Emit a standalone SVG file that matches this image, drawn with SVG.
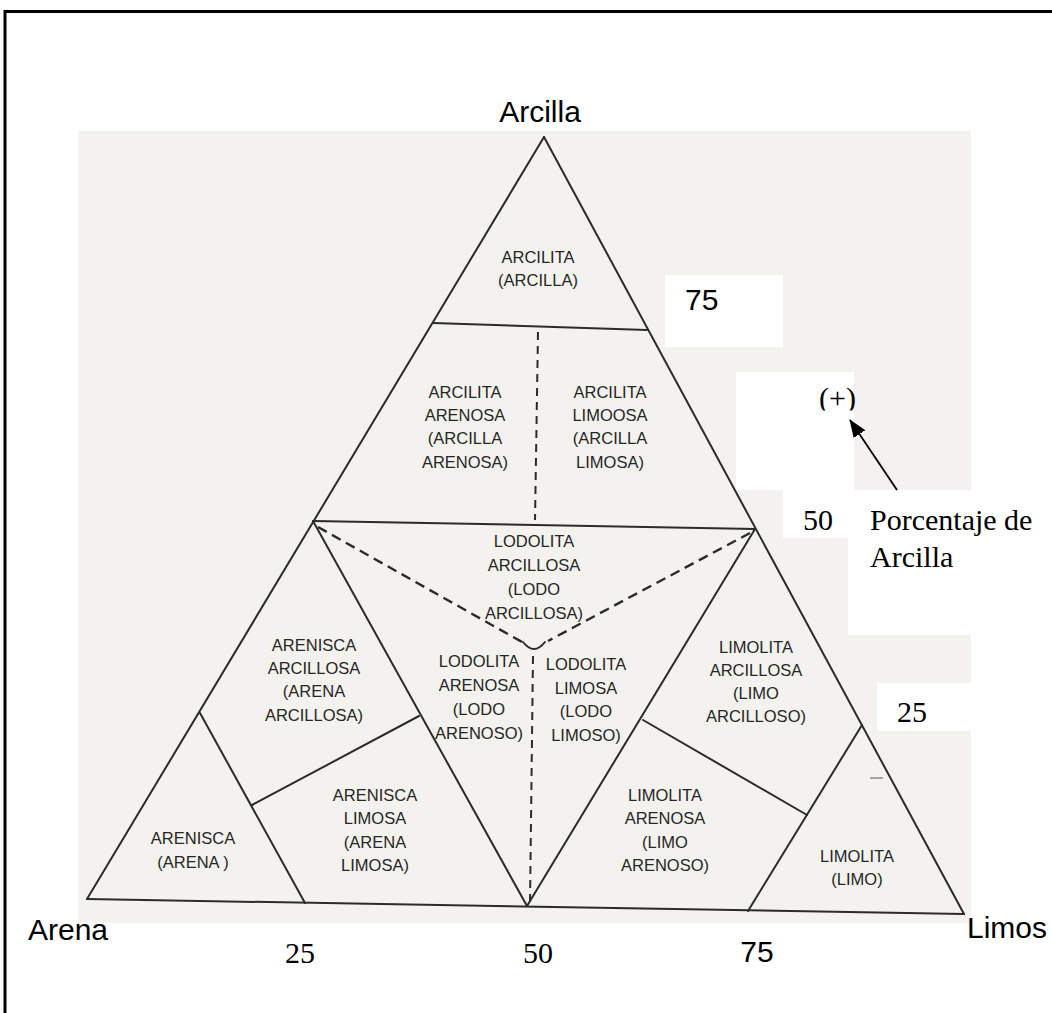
<svg xmlns="http://www.w3.org/2000/svg" width="1052" height="1013" viewBox="0 0 1052 1013">
<style>
.lbl{font-family:"Liberation Sans",Arial,sans-serif;font-size:16.5px;fill:#262626;text-anchor:middle}
.big{font-family:"Liberation Sans",Arial,sans-serif;font-size:30px;fill:#000}
.tim{font-family:"Liberation Serif","Times New Roman",serif;font-size:30px;fill:#000}
.ln{stroke:#2b2b2b;stroke-width:2;fill:none;stroke-linecap:round}
.ds{stroke:#2b2b2b;stroke-width:2.4;fill:none;stroke-dasharray:10 6}
.dv{stroke:#2b2b2b;stroke-width:2;fill:none;stroke-dasharray:8 6}
.wb{fill:#ffffff}
</style>
<defs>
<marker id="ah" viewBox="0 0 18 14" refX="17" refY="7" markerWidth="18" markerHeight="14" orient="auto" markerUnits="userSpaceOnUse">
<path d="M0,0 L18,7 L0,14 z" fill="#000"/>
</marker>
<clipPath id="plusclip"><rect x="800" y="370" width="80" height="40.5"/></clipPath>
</defs>
<rect x="0" y="0" width="1052" height="1013" fill="#ffffff"/>
<rect x="5" y="11.5" width="1060" height="1020" fill="none" stroke="#000" stroke-width="3"/>
<rect id="scan" x="78" y="131" width="893" height="792" fill="#f4f2ee"/>

<g id="boxes">
<rect class="wb" x="665" y="275" width="118" height="72"/>
<rect class="wb" x="736" y="372" width="118" height="118"/>
<rect class="wb" x="783" y="490" width="66" height="48"/>
<rect class="wb" x="848" y="490" width="204" height="145"/>
<rect class="wb" x="877" y="683" width="95" height="48"/>
</g>

<g id="connectors">
<line class="ln" x1="544" y1="137" x2="87" y2="899"/>
<line class="ln" x1="544" y1="137" x2="964" y2="914"/>
<line class="ln" x1="87" y1="899" x2="964" y2="914" stroke-width="3"/>
<line class="ln" x1="433" y1="323" x2="647" y2="330"/>
<line class="ln" x1="313" y1="521" x2="755" y2="529"/>
<line class="dv" x1="538" y1="332" x2="535" y2="520"/>
<line class="ln" x1="313" y1="521" x2="527" y2="906"/>
<line class="ln" x1="755" y1="529" x2="527" y2="906"/>
<line class="ds" x1="318" y1="527" x2="522" y2="642"/>
<line class="ds" x1="750" y1="533" x2="548" y2="641"/>
<path class="ln" d="M523,642 Q534,656 545,642"/>
<line class="dv" x1="533" y1="656" x2="530" y2="904"/>
<line class="ln" x1="200" y1="713" x2="305" y2="903"/>
<line class="ln" x1="419" y1="716" x2="252" y2="805"/>
<line class="ln" x1="862" y1="725" x2="748" y2="911"/>
<line class="ln" x1="643" y1="720" x2="807" y2="815"/>
<line x1="870" y1="778" x2="883" y2="778" stroke="#888" stroke-width="1.5"/>
<line x1="897" y1="490" x2="850" y2="420" stroke="#000" stroke-width="1.8" marker-end="url(#ah)"/>
</g>

<g id="n-arcilita">
<text class="lbl" x="538" y="263">ARCILITA</text>
<text class="lbl" x="538" y="286">(ARCILLA)</text>
</g>
<g id="n-arcilita-arenosa">
<text class="lbl" x="465" y="398">ARCILITA</text>
<text class="lbl" x="465" y="421">ARENOSA</text>
<text class="lbl" x="465" y="444">(ARCILLA</text>
<text class="lbl" x="465" y="468">ARENOSA)</text>
</g>
<g id="n-arcilita-limosa">
<text class="lbl" x="610" y="398">ARCILITA</text>
<text class="lbl" x="610" y="421">LIMOOSA</text>
<text class="lbl" x="610" y="444">(ARCILLA</text>
<text class="lbl" x="610" y="468">LIMOSA)</text>
</g>
<g id="n-lodolita-arcillosa">
<text class="lbl" x="534" y="547">LODOLITA</text>
<text class="lbl" x="534" y="571">ARCILLOSA</text>
<text class="lbl" x="534" y="595">(LODO</text>
<text class="lbl" x="534" y="619">ARCILLOSA)</text>
</g>
<g id="n-arenisca-arcillosa">
<text class="lbl" x="314" y="651">ARENISCA</text>
<text class="lbl" x="314" y="674">ARCILLOSA</text>
<text class="lbl" x="314" y="697">(ARENA</text>
<text class="lbl" x="314" y="721">ARCILLOSA)</text>
</g>
<g id="n-lodolita-arenosa">
<text class="lbl" x="479" y="667">LODOLITA</text>
<text class="lbl" x="479" y="691">ARENOSA</text>
<text class="lbl" x="479" y="715">(LODO</text>
<text class="lbl" x="479" y="739">ARENOSO)</text>
</g>
<g id="n-lodolita-limosa">
<text class="lbl" x="586" y="670">LODOLITA</text>
<text class="lbl" x="586" y="694">LIMOSA</text>
<text class="lbl" x="586" y="717">(LODO</text>
<text class="lbl" x="586" y="741">LIMOSO)</text>
</g>
<g id="n-limolita-arcillosa">
<text class="lbl" x="756" y="653">LIMOLITA</text>
<text class="lbl" x="756" y="676">ARCILLOSA</text>
<text class="lbl" x="756" y="699">(LIMO</text>
<text class="lbl" x="756" y="722">ARCILLOSO)</text>
</g>
<g id="n-arenisca-limosa">
<text class="lbl" x="375" y="801">ARENISCA</text>
<text class="lbl" x="375" y="824">LIMOSA</text>
<text class="lbl" x="375" y="848">(ARENA</text>
<text class="lbl" x="375" y="871">LIMOSA)</text>
</g>
<g id="n-arenisca">
<text class="lbl" x="193" y="844">ARENISCA</text>
<text class="lbl" x="193" y="868">(ARENA )</text>
</g>
<g id="n-limolita-arenosa">
<text class="lbl" x="665" y="801">LIMOLITA</text>
<text class="lbl" x="665" y="824">ARENOSA</text>
<text class="lbl" x="665" y="848">(LIMO</text>
<text class="lbl" x="665" y="871">ARENOSO)</text>
</g>
<g id="n-limolita">
<text class="lbl" x="857" y="862">LIMOLITA</text>
<text class="lbl" x="857" y="885">(LIMO)</text>
</g>

<g id="axis-labels">
<text class="big" x="540" y="122" text-anchor="middle">Arcilla</text>
<text class="big" x="28" y="940">Arena</text>
<text class="big" x="967" y="938">Limos</text>
<text class="big" x="685" y="310" font-size="25">75</text>
<text class="tim" x="803" y="530">50</text>
<text class="tim" x="897" y="722">25</text>
<text class="tim" x="819" y="408" clip-path="url(#plusclip)">(+)</text>
<text class="tim" x="870" y="530">Porcentaje de</text>
<text class="tim" x="870" y="567">Arcilla</text>
<text class="tim" x="300" y="963" text-anchor="middle">25</text>
<text class="tim" x="538" y="963" text-anchor="middle">50</text>
<text class="big" x="757" y="962" text-anchor="middle" font-size="22">75</text>
</g>
</svg>
